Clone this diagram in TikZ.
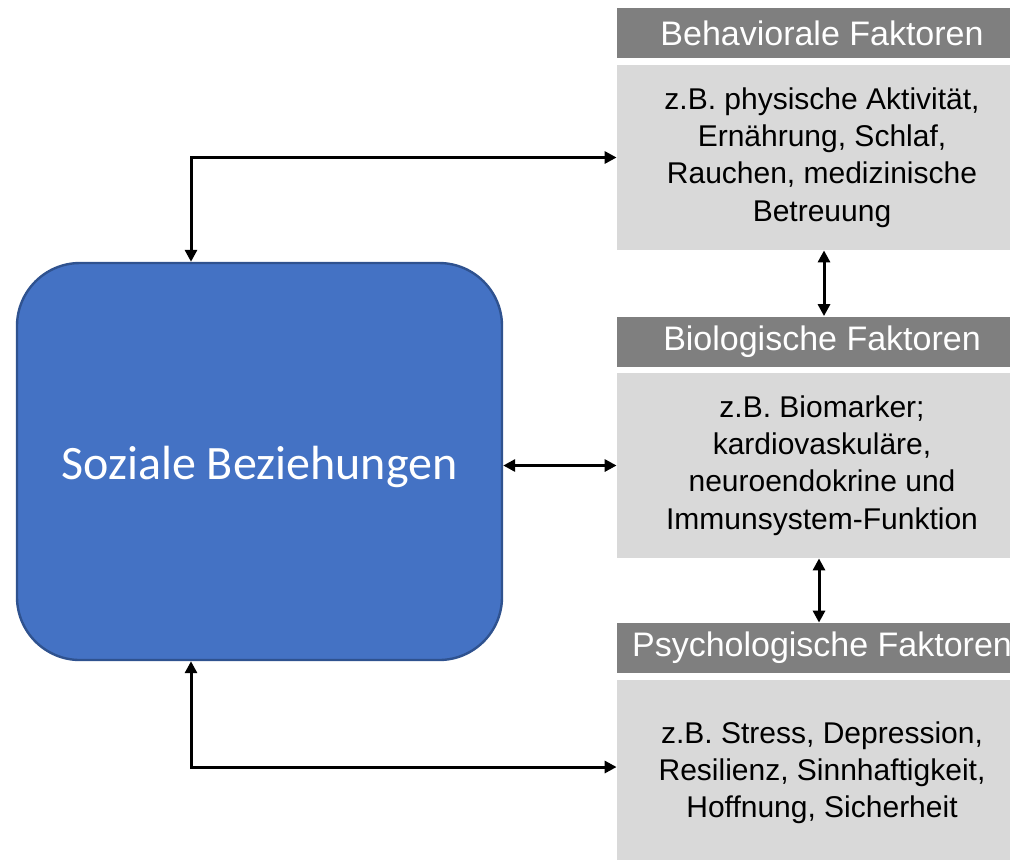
\documentclass[tikz,border=0pt]{standalone}
\usepackage{fontspec}
\setmainfont{Liberation Sans}
\newfontfamily\calibri{Carlito}
\usetikzlibrary{arrows.meta}
\definecolor{headgray}{HTML}{7F7F7F}
\definecolor{bodygray}{HTML}{D9D9D9}
\definecolor{socblue}{HTML}{4472C4}
\definecolor{socedge}{HTML}{2F528F}
\tikzstyle{head} = [rectangle, minimum width=205pt, minimum height=25pt, text centered, fill=headgray, text=white, font=\fontsize{17pt}{20pt}\selectfont]
\tikzstyle{fact} = [rectangle, minimum width=205pt, minimum height=92.5pt, align=center, fill=bodygray, font=\fontsize{15pt}{18.6pt}\selectfont]
\tikzstyle{soc} = [rectangle, rounded corners=31.5pt, minimum width=242.5pt, minimum height=198.5pt, text centered, draw=socedge, line width=1.2pt, fill=socblue, text=white, font=\calibri\fontsize{24pt}{28pt}\selectfont]
\tikzstyle{arrow} = [line width=1.5pt,<->,>={Triangle[length=6pt,width=6pt]}]

\begin{document}
\begin{tikzpicture}[x=0.5pt, y=-0.5pt]
		\useasboundingbox (0,0) rectangle (1010,859);
		\node (soz) [soc] at (259.5,461.5) {\raisebox{-2.5pt}[\height][\depth]{Soziale Beziehungen}};
		\node (h1) [head] at (822,33) {Behaviorale Faktoren};
		\node (b1) [fact] at (822,157.5) {z.B. physische Aktivität,\\ Ernährung, Schlaf,\\ Rauchen, medizinische\\ Betreuung};
		\node (h2) [head] at (822,341.5) {Biologische Faktoren};
		\node (b2) [fact] at (822,465.5) {z.B. Biomarker;\\ kardiovaskuläre,\\ neuroendokrine und\\ Immunsystem-Funktion};
		\node (h3) [head] at (822,648) {Psychologische Faktoren};
		\node (b3) [fact, minimum height=93pt] at (822,773) {z.B. Stress, Depression,\\ Resilienz, Sinnhaftigkeit,\\ Hoffnung, Sicherheit};

		\draw [arrow] ([xshift=-34.25pt]soz.north) |- (b1.west);
		\draw [arrow] (soz.east |- b2.west) -- (b2.west);
		\draw [arrow] ([xshift=-34.25pt]soz.south) |- ([yshift=3pt]b3.west);
		\draw [arrow] ([xshift=1pt]b1.south) -- ([xshift=1pt]h2.north);
		\draw [arrow] ([xshift=-1.5pt]b2.south) -- ([xshift=-1.5pt]h3.north);
\end{tikzpicture}
\end{document}
